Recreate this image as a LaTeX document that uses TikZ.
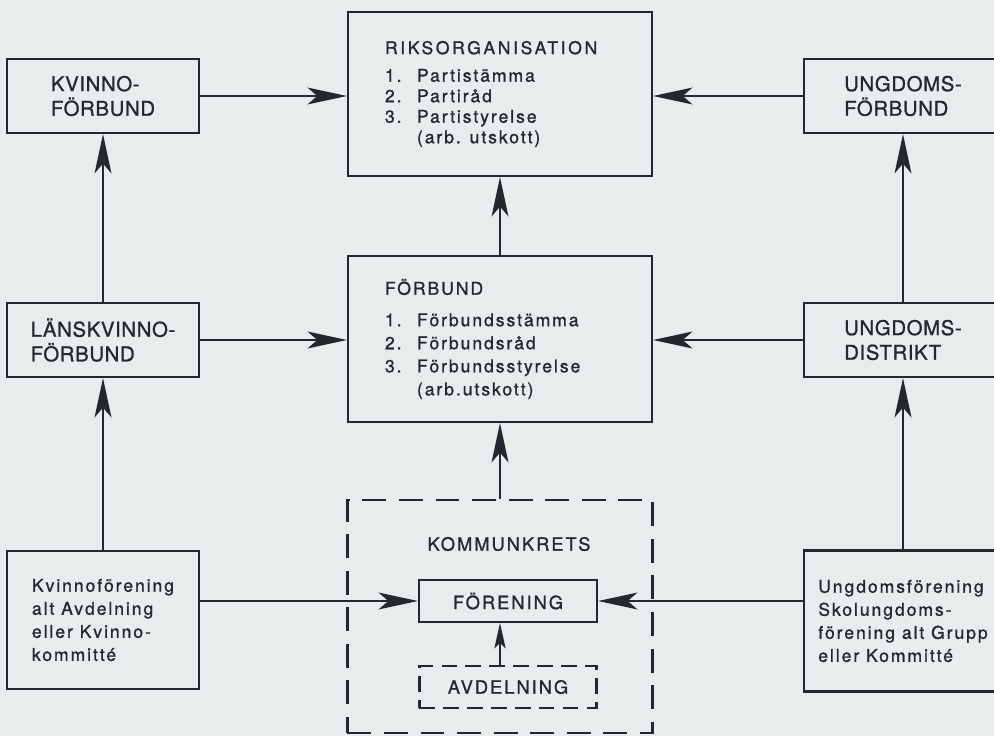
\documentclass[tikz,border=0pt]{standalone}
\usepackage{fontspec}
\setmainfont{TeX Gyre Heros}[LetterSpace=11,FakeBold=1.0]
\newfontfamily\titlefont{TeX Gyre Heros}[LetterSpace=3,FakeBold=1.0]
\newfontfamily\headfont{TeX Gyre Heros}[LetterSpace=15,FakeBold=1.0]
\usepackage{tikz}
\usetikzlibrary{calc,positioning,arrows.meta}
\definecolor{paper}{RGB}{232,236,236}
\definecolor{ink}{RGB}{38,38,46}
\newcommand\nr[1]{\makebox[0.8cm][l]{#1}}

\begin{document}
\begin{tikzpicture}[x=0.025cm,y=-0.025cm,inner sep=0pt,
  box/.style={draw=ink,line width=1.5pt,text=ink,align=left},
  dbox/.style={box,dash pattern=on 17pt off 9pt},
  sdbox/.style={box,dash pattern=on 11pt off 6pt},
  sidebox/.style={box,minimum height=1.85cm,font={\titlefont\fontsize{14.5}{17.5}\selectfont}},
  midbox/.style={box,minimum width=7.6cm,text width=5.75cm,font={\fontsize{12.5}{14.6}\selectfont}},
  lowbox/.style={box,font={\fontsize{12.5}{16.4}\selectfont}},
  arr/.style={draw=ink,line width=1.5pt,-{Stealth[length=28pt,width=12pt,inset=7pt]}},
  sarr/.style={draw=ink,line width=1.5pt,-{Stealth[length=18pt,width=8pt,inset=4pt]}}]
\fill[paper] (0,0) rectangle (994,736);
\useasboundingbox (0,0) rectangle (994,736);
\clip (0,0) rectangle (994,736);
\node[midbox,minimum height=4.1cm] (riks) at (500,94) {{\headfont RIKSORGANISATION}\\[5pt]\nr{1.}Partistämma\\\nr{2.}Partiråd\\\nr{3.}Partistyrelse\\\nr{}(arb. utskott)};
\node[midbox,minimum height=4.15cm,font={\fontsize{12.5}{16.4}\selectfont}] (forb) at (500,339) {FÖRBUND\\[6pt]\nr{1.}Förbundsstämma\\\nr{2.}Förbundsråd\\\nr{3.}Förbundsstyrelse\\\nr{}(arb.utskott)};
\node[sidebox,minimum width=4.8cm] (kvf) at (103,96) {KVINNO-\\FÖRBUND};
\node[sidebox,minimum width=4.8cm] (lkvf) at (103,340) {LÄNSKVINNO-\\FÖRBUND};
\node[sidebox,minimum width=4.95cm] (ungf) at (903,96) {UNGDOMS-\\FÖRBUND};
\node[sidebox,minimum width=4.95cm] (ungd) at (903,340) {UNGDOMS-\\DISTRIKT};
\node[lowbox,minimum width=4.8cm,minimum height=3.45cm] (kvfor) at (103,620) {Kvinnoförening\\alt Avdelning\\eller Kvinno-\\kommitté};
\node[lowbox,minimum width=4.95cm,minimum height=3.525cm] (ungfor) at (903,621) {Ungdomsförening\\Skolungdoms-\\förening alt Grupp\\eller Kommitté};
\node[dbox,minimum width=7.625cm,minimum height=5.825cm] (komm) at (500,616.5) {};
\node[text=ink,font={\fontsize{13}{15}\selectfont}] (kommtxt) at (509,544) {KOMMUNKRETS};
\node[box,minimum width=4.45cm,minimum height=1.05cm,font={\fontsize{13}{15}\selectfont}] (foren) at (508,601) {FÖRENING};
\node[sdbox,minimum width=4.425cm,minimum height=1.05cm,font={\fontsize{13}{15}\selectfont}] (avd) at (508,687) {AVDELNING};

\draw[arr] (kvf.east) -- (kvf.east -| riks.west);
\draw[arr] (ungf.west) -- (ungf.west -| riks.east);
\draw[arr] (lkvf.east) -- (lkvf.east -| forb.west);
\draw[arr] (ungd.west) -- (ungd.west -| forb.east);
\draw[arr] (lkvf.north) -- (kvf.south);
\draw[arr] (kvfor.north) -- (lkvf.south);
\draw[arr] (ungd.north) -- (ungf.south);
\draw[arr] (ungfor.north) -- (ungd.south);
\draw[arr] (forb.north) -- (riks.south);
\draw[arr] (komm.north) -- (forb.south);
\draw[arr] (kvfor.east |- foren.west) -- (foren.west);
\draw[arr] (ungfor.west |- foren.east) -- (foren.east);
\draw[sarr] (avd.north -| komm.north) -- (foren.south -| komm.north);
\end{tikzpicture}
\end{document}
